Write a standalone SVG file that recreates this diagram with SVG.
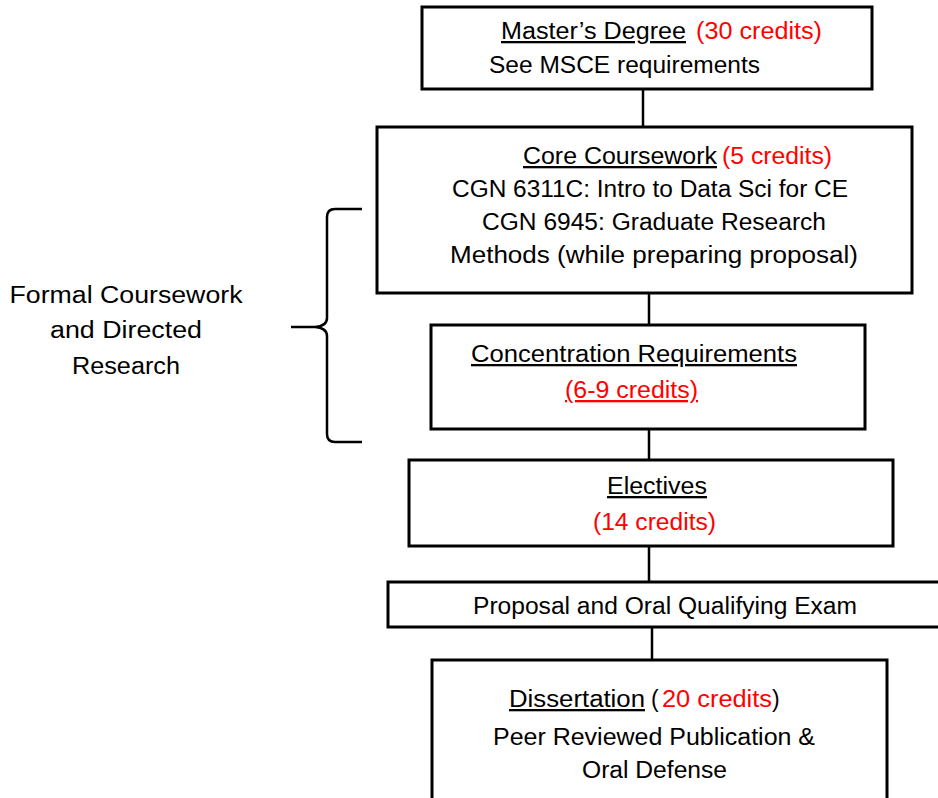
<svg xmlns="http://www.w3.org/2000/svg" width="938" height="798" viewBox="0 0 938 798">
<style>
.box{fill:#fff;stroke:#000;stroke-width:3}
.con{stroke:#000;stroke-width:2.5;fill:none}
text{font-family:"Liberation Sans",Arial,sans-serif;font-size:23px;fill:#000}
.red{fill:#ff0000}
.u{text-decoration:underline}
</style>
<rect width="938" height="798" fill="#fff"/>
<g id="connectors">
<line class="con" x1="643" y1="89" x2="643" y2="127"/>
<line class="con" x1="649" y1="293" x2="649" y2="325"/>
<line class="con" x1="649" y1="429" x2="649" y2="460"/>
<line class="con" x1="649" y1="546" x2="649" y2="582"/>
<line class="con" x1="652" y1="627" x2="652" y2="660"/>
</g>
<g id="brace">
<path class="con" d="M362,209 L335,209 Q327,209 327,217 L327,318 Q327,326 315,327 L291,327 L315,327 Q327,328 327,336 L327,434 Q327,442 335,442 L362,442" stroke-width="3"/>
</g>
<g id="label-formal">
<text x="126" y="303" text-anchor="middle" textLength="233" lengthAdjust="spacingAndGlyphs">Formal Coursework</text>
<text x="126" y="338" text-anchor="middle" textLength="152" lengthAdjust="spacingAndGlyphs">and Directed</text>
<text x="126" y="374" text-anchor="middle" textLength="108" lengthAdjust="spacingAndGlyphs">Research</text>
</g>
<g id="masters">
<rect class="box" x="422" y="7" width="450" height="82"/>
<text y="39"><tspan class="u" x="501" textLength="185" lengthAdjust="spacingAndGlyphs">Master’s Degree</tspan><tspan class="red" x="696" textLength="126" lengthAdjust="spacingAndGlyphs">(30 credits)</tspan></text>
<text x="489" y="73" textLength="271" lengthAdjust="spacingAndGlyphs">See MSCE requirements</text>
</g>
<g id="core">
<rect class="box" x="377" y="127" width="535" height="166"/>
<text y="164"><tspan class="u" x="523" textLength="194" lengthAdjust="spacingAndGlyphs">Core Coursework</tspan><tspan class="red" x="722" textLength="110" lengthAdjust="spacingAndGlyphs">(5 credits)</tspan></text>
<text x="452" y="197" textLength="396" lengthAdjust="spacingAndGlyphs">CGN 6311C: Intro to Data Sci for CE</text>
<text x="482" y="230" textLength="344" lengthAdjust="spacingAndGlyphs">CGN 6945: Graduate Research</text>
<text x="450" y="263" textLength="408" lengthAdjust="spacingAndGlyphs">Methods (while preparing proposal)</text>
</g>
<g id="concentration">
<rect class="box" x="431" y="325" width="434" height="104"/>
<text x="471" y="362" class="u" textLength="326" lengthAdjust="spacingAndGlyphs">Concentration Requirements </text>
<text x="565" y="398" class="red u" textLength="133" lengthAdjust="spacingAndGlyphs">(6-9 credits)</text>
</g>
<g id="electives">
<rect class="box" x="409" y="460" width="484" height="86"/>
<text x="607" y="494" class="u" textLength="100" lengthAdjust="spacingAndGlyphs">Electives </text>
<text x="593" y="530" class="red" textLength="123" lengthAdjust="spacingAndGlyphs">(14 credits)</text>
</g>
<g id="proposal">
<rect class="box" x="388" y="582" width="556" height="45"/>
<text x="473" y="614" textLength="384" lengthAdjust="spacingAndGlyphs">Proposal and Oral Qualifying Exam</text>
</g>
<g id="dissertation">
<rect class="box" x="432" y="660" width="455" height="150"/>
<text y="707"><tspan class="u" x="509" textLength="136" lengthAdjust="spacingAndGlyphs">Dissertation</tspan><tspan x="651">(</tspan><tspan class="red" x="662" textLength="110" lengthAdjust="spacingAndGlyphs">20 credits</tspan><tspan x="772">)</tspan></text>
<text x="493" y="745" textLength="322" lengthAdjust="spacingAndGlyphs">Peer Reviewed Publication &amp;</text>
<text x="582" y="778" textLength="145" lengthAdjust="spacingAndGlyphs">Oral Defense</text>
</g>
</svg>
